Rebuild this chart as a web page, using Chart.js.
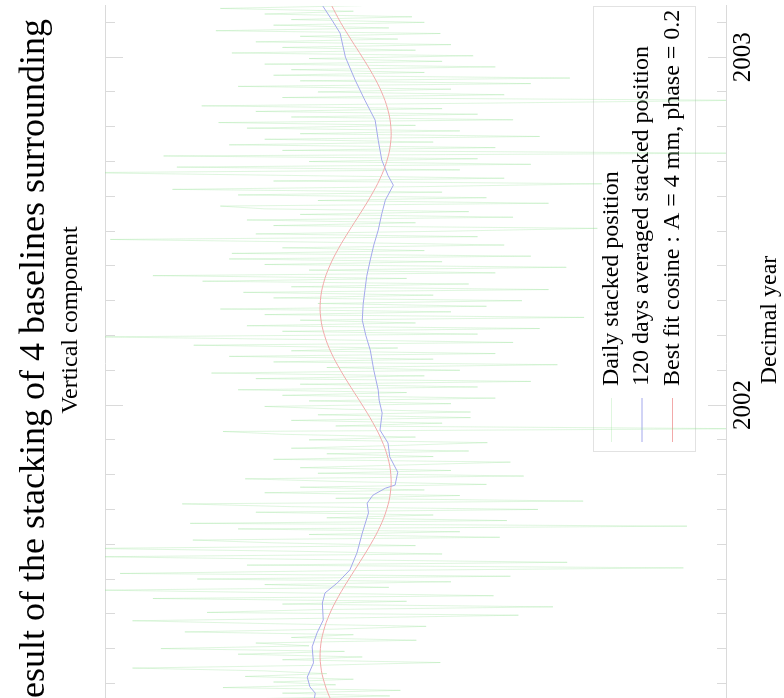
<!DOCTYPE html>
<html><head><meta charset="utf-8">
<script src="https://cdn.jsdelivr.net/npm/chart.js@4.4.1/dist/chart.umd.min.js"></script>
<style>
html,body{margin:0;padding:0;background:#fff;width:784px;height:698px;overflow:hidden;}
#wrap{position:absolute;left:0;top:0;width:940px;height:784px;transform-origin:0 0;transform:translate(0px,790px) rotate(-90deg);}
canvas{display:block;}
</style></head><body>
<div id="wrap"><canvas id="c" width="940" height="784"></canvas></div>
<script>
const titleText = 'Result of the stacking of 4 baselines surrounding';
const subtitleText = 'Vertical component';
const xAxisTitle = 'Decimal year';
const legendLabels = ['Daily stacked position', '120 days averaged stacked position', 'Best fit cosine : A = 4 mm, phase = 0.2'];
const yearTicks = [2002, 2003];
const xMin = 2001.089, xMax = 2003.147;
const yMin = -40, yMax = 30;

const dailyStart = 2001.092, dailyStep = 0.008;
const dailyValues = [
 9, 3, 15, 6, 12, 1, 17, 8, 13, -2.1,
 10, -3.3, 16.7, 4, 11, 2, 14.2, 5, 12, 26.9,
 6, -7.8, 10, 1, 15, 3, 23.7, 7, 13, -5.1,
 9, 2, 21.0, 4, -6.2, 12, 26.9, 3, -16.6, 18.5,
 6, -20.5, 10, -4, 24.6, -13.8, 8, 30.5, -2, 12,
 -9, 19.6, -15.7, 28.3, 3, -35.2, 14, -22.1, 6, 31,
 -8, 9, 32, -5, 11, 20.1, -14.5, 7, -10, 15,
 -35.6, 20.4, -15.3, 5, -7, 13, -18.8, 9, 21.3, -23.9,
 4, -10, 12, -6, 8, -13, 3, 14.2, -17.2, 6,
 -9, 8, -4, -15.7, 11.0, -7, 5, -11, 9, -3,
 -13.1, 7, -5, 10, 16.7, -42, 4, -8, 9, -11.2,
 6, -11.2, 3, 12, -9, 7, -14, 10, -4, 15,
 -12, 8, -18, 13, -6, 18, -10, 5, -21, 11,
 -7, 16, -14, 9, -3, 20, -16, 6, 31, -12,
 10, -19, 14, -5, 8, -24, 12, -9, 17, -13,
 6, -17, 11, -7, 14.4, -20, 9, -11, 19, -4,
 24.6, -14, 7, -22, 12, -8, 16, -18, 15.7, -6,
 10, -15, 5, 29.4, -12, 13, -9, -25.5, 11, -5,
 14.0, -16, 8, -11, 12, 17.0, -20, 6, -13, 15,
 -8, 22.4, -6, -26, 11, -15, 9, 33, -10, 21.9,
 -18, 7, -12, 23.4, -41, 10, -14, 16, -7, 12,
 -19, 8, -10, 14, -5, 17.2, -16, 9, -12, 13,
 -8, 19.1, -13.4, -42, 10, -15, 6, -9, 15.0, -18,
 8, -22.4, 11, -6, 9, -14, 12.0, -8, 7, -11.5,
 15.7, -5, 10, -9, 13, -3, 8, -7.8, 17.5, -2,
 11, -6, 9, -4.6, 12, 2, 17.0, 1.1
];

const avgYears = [2001.10, 2001.14, 2001.172, 2001.19, 2001.218, 2001.259, 2001.305, 2001.345, 2001.382, 2001.431,
 2001.46, 2001.489, 2001.526, 2001.575, 2001.632, 2001.69, 2001.718, 2001.741, 2001.761, 2001.77,
 2001.807, 2001.851, 2001.891, 2001.928, 2001.977, 2002.014, 2002.043, 2002.10, 2002.158, 2002.20,
 2002.244, 2002.29, 2002.33, 2002.37, 2002.417, 2002.46, 2002.503, 2002.55, 2002.589, 2002.632,
 2002.66, 2002.704, 2002.761, 2002.819, 2002.876, 2002.934, 2003.0, 2003.069, 2003.106, 2003.149];
const avgValues = [6.0, 6.5, 6.3, 6.9, 7.2, 6.5, 6.65, 6.1, 5.4, 5.5,
 5.2, 3.8, 2.4, 1.6, 1.0, 0.3, 0.45, -0.2, -1.6, -2.7,
 -3.0, -2.1, -1.9, -1.0, -1.24, -0.9, -0.8, -0.3, 0.1, 0.6,
 1.0, 0.9, 0.7, 0.5, 0.1, -0.3, -0.8, -1.2, -1.6, -2.5,
 -1.9, -1.2, -0.8, -0.45, 0.7, 1.8, 2.9, 3.5, 4.4, 5.5];

const cosYears = [2001.05, 2001.10, 2001.15, 2001.20, 2001.25, 2001.30, 2001.35, 2001.40, 2001.45, 2001.50,
 2001.55, 2001.60, 2001.65, 2001.70, 2001.75, 2001.80, 2001.85, 2001.90, 2001.95, 2002.00,
 2002.05, 2002.10, 2002.15, 2002.20, 2002.25, 2002.30, 2002.35, 2002.40, 2002.45, 2002.50,
 2002.55, 2002.60, 2002.65, 2002.70, 2002.75, 2002.80, 2002.85, 2002.90, 2002.95, 2003.00,
 2003.05, 2003.10, 2003.15];
const cosValues = [2.25, 3.45, 4.49, 5.25, 5.68, 5.72, 5.37, 4.67, 3.68, 2.50,
 1.25, 0.05, -0.99, -1.75, -2.18, -2.22, -1.87, -1.17, -0.18, 1.00,
 2.25, 3.45, 4.49, 5.25, 5.68, 5.72, 5.37, 4.67, 3.68, 2.50,
 1.25, 0.05, -0.99, -1.75, -2.18, -2.22, -1.87, -1.17, -0.18, 1.00,
 2.25, 3.45, 4.49];

const colDaily = 'rgba(140,222,140,0.28)';
const colAvg = '#a3a8ec';
const colCos = '#f2a9a9';
const frameCol = '#dadada';

const dailyData = dailyValues.map((v, i) => ({x: dailyStart + i * dailyStep, y: v}));
const avgData = avgYears.map((t, i) => ({x: t, y: avgValues[i]}));
const cosData = cosYears.map((t, i) => ({x: t, y: cosValues[i]}));

const isMajor = v => Math.abs(v - Math.round(v)) < 1e-6;

const legendPlace = {
  id: 'legendPlace',
  afterLayout(chart) {
    const lg = chart.legend, ca = chart.chartArea;
    if (!lg) return;
    lg.left = ca.right - 442.5; lg.right = ca.right;
    lg.top = ca.bottom - 133; lg.bottom = ca.bottom;
    lg.width = lg.right - lg.left; lg.height = lg.bottom - lg.top;
  },
  beforeDatasetsDraw(chart) {
    const ca = chart.chartArea, c = chart.ctx;
    c.save();
    c.strokeStyle = '#e2e2e2'; c.lineWidth = 1;
    c.strokeRect(Math.round(ca.right - 446) + 0.5, Math.round(ca.bottom - 133) + 0.5, 445, 102);
    c.restore();
  }
};

Chart.defaults.font.family = "'Liberation Serif', 'Times New Roman', serif";
Chart.defaults.color = '#000';

new Chart(document.getElementById('c'), {
  type: 'line',
  data: {
    datasets: [
      {label: legendLabels[0], data: dailyData, borderColor: colDaily, backgroundColor: colDaily, borderWidth: 1, pointRadius: 0, order: 3},
      {label: legendLabels[1], data: avgData, borderColor: colAvg, backgroundColor: colAvg, borderWidth: 1, pointRadius: 0, order: 2},
      {label: legendLabels[2], data: cosData, borderColor: colCos, backgroundColor: colCos, borderWidth: 1, pointRadius: 0, tension: 0.4, order: 1}
    ]
  },
  options: {
    responsive: false,
    animation: false,
    devicePixelRatio: 1,
    layout: {padding: 0},
    scales: {
      x: {
        type: 'linear', position: 'bottom', min: xMin, max: xMax,
        afterFit: s => { s.height = 40; },
        ticks: {stepSize: 0.1, includeBounds: false, autoSkip: false, maxRotation: 0, minRotation: 0, padding: 20,
          font: {size: 25}, color: '#000',
          callback: v => (isMajor(v) && yearTicks.includes(Math.round(v))) ? String(Math.round(v)) : ''},
        grid: {drawOnChartArea: false, tickLength: -18, tickColor: '#dadada', tickWidth: 1,
          tickBorderDash: ctx => (ctx.tick && isMajor(ctx.tick.value)) ? [] : [10, 40]},
        border: {display: true, color: frameCol, width: 1}
      },
      xTop: {
        type: 'linear', position: 'top', min: xMin, max: xMax,
        afterFit: s => { s.height = 0; },
        ticks: {display: false, stepSize: 0.1, includeBounds: false, autoSkip: false},
        grid: {drawOnChartArea: false, tickLength: -18, tickColor: '#dadada', tickWidth: 1,
          tickBorderDash: ctx => (ctx.tick && isMajor(ctx.tick.value)) ? [] : [0, 8, 10, 40]},
        border: {display: true, color: frameCol, width: 1}
      },
      xTitle: {
        type: 'linear', position: 'bottom', weight: 1, fullSize: true, min: xMin, max: xMax,
        afterFit: s => { s.height = 18; },
        ticks: {display: false}, grid: {display: false}, border: {display: false},
        title: {display: true, text: xAxisTitle, font: {size: 24}, padding: 0, color: '#000'}
      },
      y: {
        type: 'linear', position: 'left', min: yMin, max: yMax,
        afterFit: s => { s.width = 68; },
        ticks: {stepSize: 10, font: {size: 25}, color: '#000'},
        grid: {drawOnChartArea: false, color: frameCol},
        border: {display: true, color: frameCol}
      },
      yR: {
        type: 'linear', position: 'right', min: yMin, max: yMax,
        afterFit: s => { s.width = 156; },
        ticks: {display: false}, grid: {display: false}, border: {display: false}
      }
    },
    plugins: {
      title: {display: true, text: titleText, align: 'start', fullSize: false,
        font: {size: 36, weight: 'normal'}, padding: {top: 13, bottom: 0}, color: '#000'},
      subtitle: {display: true, text: subtitleText, font: {size: 24, weight: 'normal'},
        padding: {top: 0, bottom: 20}, color: '#000'},
      legend: {display: true, position: 'chartArea', align: 'start',
        labels: {font: {size: 24}, color: '#000', usePointStyle: true, pointStyle: 'line', pointStyleWidth: 44,
          boxWidth: 44, boxHeight: 24, padding: 6.5, sort: (a, b) => a.datasetIndex - b.datasetIndex}},
      tooltip: {enabled: false}
    }
  },
  plugins: [legendPlace]
});
</script>
</body></html>
